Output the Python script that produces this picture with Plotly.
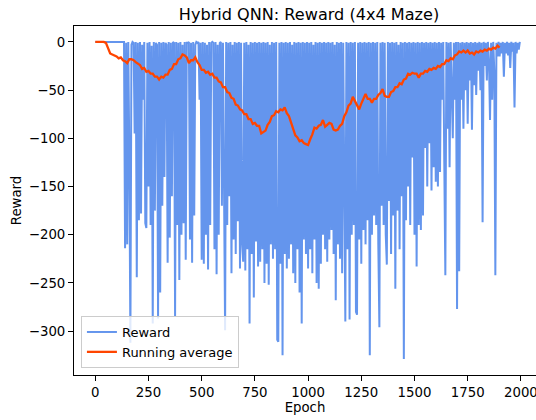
import plotly.graph_objects as go

# ---------------- data ----------------
reward_step = 5  # epochs between listed reward samples
reward = [
    # 0-95
    0, 0, 0, 0, 0, 0, 0, 0, 0, 0, 0, 0, 0, 0, 0, 0, 0, 0, 0, 0,
    # 100-195
    0, 0, 0, 0, 0, 0, 0, 0, -214, -1, -210, 0, -120, -312, -3, 0, -1, -95, 0, -244,
    # 200-295
    -1, -185, 0, -178, -3, -60, 0, -188, -193, -1, -150, 0, -190, -4, -292, 0, -175, -1, -3, -287,
    # 300-395
    0, -260, -1, -170, 0, -140, -1, -3, -229, 0, -203, -1, -160, 0, -1, -285, 0, -190, -1, -247,
    # 400-495
    0, -200, -3, -188, 0, -226, -1, -1, 0, -205, -1, -229, 0, -180, -3, 0, -1, 0, -60, -1,
    # 500-595
    -226, 0, -230, -1, -200, -3, -236, 0, -190, -1, 0, -1, -215, 0, -241, -3, -200, -1, 0, -170,
    # 600-695
    -1, -180, -299, 0, -190, -1, -160, 0, -240, -3, -205, 0, -220, -1, -186, 0, -235, -1, -210, -228,
    # 700-795
    -1, -237, 0, -215, -3, -292, 0, -220, -1, -265, 0, -207, -1, -233, 0, -228, -1, -215, 0, -250,
    # 800-895
    -1, -230, 0, -252, -3, -210, 0, -225, -1, -215, 0, -309, -311, -1, -230, 0, -325, -1, -220, 0,
    # 900-995
    -235, -1, -225, 0, -210, -3, -240, 0, -250, -1, -215, 0, -260, -1, -292, 0, -205, -1, -220, 0,
    # 1000-1095
    -235, -1, -215, 0, -240, -3, -205, 0, -250, -1, -256, 0, -230, -1, -200, 0, -215, -1, -228, 0,
    # 1100-1195
    -205, -1, -195, 0, -220, -3, -268, 0, -210, -1, -225, 0, -240, -1, -200, -290, 0, -215, -1, -288,
    # 1200-1295
    0, -200, -1, -190, 0, -280, -283, -1, -205, 0, -230, -1, -195, 0, -210, -1, -185, 0, -325, -1,
    # 1300-1395
    -200, 0, -180, -1, -190, 0, -210, -296, -1, -170, 0, -190, -1, -200, -231, 0, -165, -1, -220, 0,
    # 1400-1495
    -180, -1, -256, 0, -175, -3, -215, 0, -160, -1, -329, 0, -185, -1, -150, 0, -190, -1, -120, 0,
    # 1500-1595
    -200, -1, -233, 0, -190, -1, -195, 0, -180, -1, -110, 0, -150, -1, -105, 0, -154, -1, -130, 0,
    # 1600-1695
    -145, -1, -150, 0, -135, -1, -60, 0, -125, -242, 0, -90, -1, -130, 0, -75, -100, -1, -60, 0,
    # 1700-1795
    -277, 0, -238, -1, -60, 0, -90, -1, -50, 0, -85, -1, -40, 0, -91, -1, -45, 0, -55, -1,
    # 1800-1895
    -30, 0, -50, -1, -187, 0, -25, -1, -40, 0, -20, -81, -1, -60, 0, -30, -242, -1, -15, 0,
    # 1900-1995
    -15, -1, -12, 0, -36, -1, -12, 0, -14, -1, -27, 0, -10, -1, -68, 0, -12, -1, -8, 0,
]

avg_step = 10  # epochs between listed running-average samples
running_avg = [
    # 0-90
    0, 0, 0, 0, 0, -1, -6, -12, -13, -14,
    # 100-190
    -15, -17, -16, -19, -20, -22, -18, -18, -19, -21,
    # 200-290
    -23, -24, -28, -27, -31, -30, -33, -33, -36, -36,
    # 300-390
    -39, -36, -37, -34, -34, -29, -28, -23, -23, -18,
    # 400-490
    -17, -13, -14, -16, -22, -19, -19, -16, -21, -24,
    # 500-590
    -29, -29, -32, -31, -34, -33, -37, -37, -41, -42,
    # 600-690
    -47, -47, -52, -53, -58, -59, -65, -66, -70, -71,
    # 700-790
    -75, -75, -80, -80, -85, -84, -87, -87, -95, -93,
    # 800-890
    -92, -86, -83, -77, -76, -72, -73, -70, -71, -68,
    # 900-990
    -74, -77, -84, -89, -97, -99, -103, -102, -105, -106,
    # 1000-1090
    -107, -101, -96, -89, -90, -87, -86, -81, -88, -86,
    # 1100-1190
    -84, -85, -91, -92, -91, -87, -85, -77, -73, -66,
    # 1200-1290
    -64, -57, -61, -65, -70, -64, -59, -54, -59, -59,
    # 1300-1390
    -63, -59, -59, -55, -53, -49, -56, -57, -57, -52,
    # 1400-1490
    -51, -47, -47, -43, -44, -39, -38, -33, -34, -32,
    # 1500-1590
    -33, -33, -37, -33, -33, -30, -31, -28, -29, -27,
    # 1600-1690
    -28, -25, -26, -23, -23, -19, -20, -17, -18, -14,
    # 1700-1790
    -13, -10, -11, -9, -11, -9, -12, -11, -13, -10,
    # 1800-1890
    -11, -9, -10, -8, -9, -7, -8, -6, -7, -4,
    # 1900
    -6,
]

x_ticks = [0, 250, 500, 750, 1000, 1250, 1500, 1750, 2000]
y_ticks = [0, -50, -100, -150, -200, -250, -300]

title_text = "Hybrid QNN: Reward (4x4 Maze)"
x_label = "Epoch"
y_label = "Reward"
series_names = ["Reward", "Running average"]

# ---------------- figure ----------------
reward_x = [i * reward_step for i in range(len(reward))]
avg_x = [i * avg_step for i in range(len(running_avg))]

FONT = "DejaVu Sans, Liberation Sans, sans-serif"
TICK_SIZE = 13.3

fig = go.Figure()
fig.add_trace(go.Scatter(
    x=reward_x, y=reward, mode="lines", name=series_names[0],
    line=dict(color="#6495ED", width=2),
))
fig.add_trace(go.Scatter(
    x=avg_x, y=running_avg, mode="lines", name=series_names[1],
    line=dict(color="#FF4500", width=2.3),
))

fig.update_layout(
    width=536, height=420,
    margin=dict(l=74, r=0, t=26, b=45, autoexpand=False),
    paper_bgcolor="white", plot_bgcolor="white",
    font=dict(family=FONT, size=TICK_SIZE, color="black"),
    title=dict(text=title_text, x=309 / 536, xanchor="center", xref="container",
               y=1 - 14 / 420, yanchor="middle", yref="container",
               font=dict(size=16.1, color="black", family=FONT)),
    showlegend=True,
    legend=dict(x=0.015, y=0.02, xanchor="left", yanchor="bottom",
                bgcolor="rgba(255,255,255,0.8)", bordercolor="#cccccc", borderwidth=1,
                font=dict(size=13.0, family=FONT, color="black"), tracegroupgap=0),
)
fig.update_xaxes(
    range=[-100, 2071], tickvals=x_ticks, ticktext=[str(v) for v in x_ticks],
    tickfont=dict(size=TICK_SIZE, family=FONT, color="black"),
    showgrid=False, zeroline=False, showline=True, linecolor="black", linewidth=1,
    mirror=True, ticks="outside", ticklen=5, tickwidth=1, tickcolor="black",
    ticklabeloverflow="allow", automargin=False,
    title=dict(text=x_label, standoff=3, font=dict(size=TICK_SIZE, family=FONT, color="black")),
)
fig.update_yaxes(
    range=[-345.5, 16.5], tickvals=y_ticks,
    tickfont=dict(size=TICK_SIZE, family=FONT, color="black"),
    showgrid=False, zeroline=False, showline=True, linecolor="black", linewidth=1,
    mirror=False, ticks="outside", ticklen=5, tickwidth=1, tickcolor="black",
    automargin=False,
    title=dict(text=y_label, standoff=4, font=dict(size=TICK_SIZE, family=FONT, color="black")),
)

fig.write_html(
    "out.html",
    config={"displayModeBar": False},
    post_script="document.body.style.margin='0';document.body.style.overflow='hidden';",
)
